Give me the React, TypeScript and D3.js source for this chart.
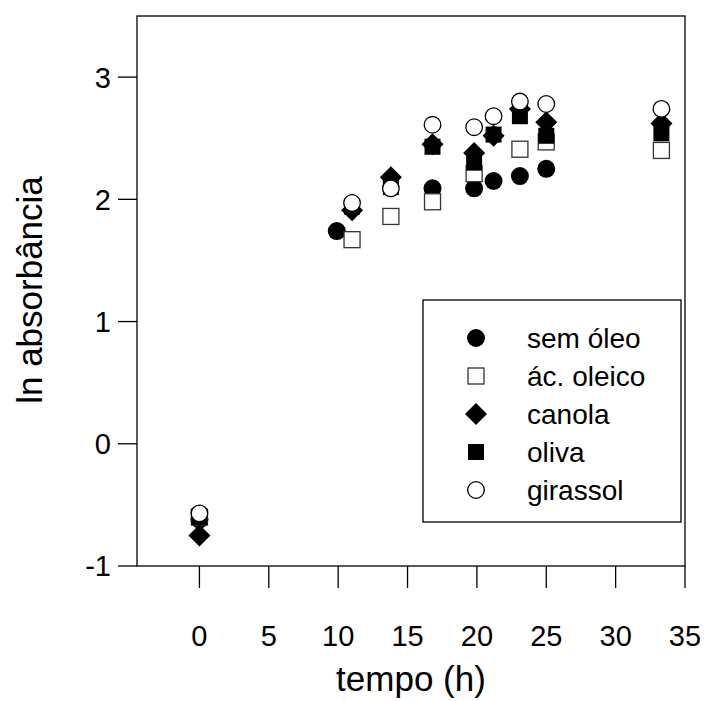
import React from "react";
import * as d3 from "d3";

const seriesNames = ["sem óleo", "ác. oleico", "canola", "oliva", "girassol"];
const symbolKinds = ["filledCircle", "openSquare", "diamond", "filledSquare", "openCircle"];

const semOleoT = [0, 9.9, 16.8, 19.8, 21.2, 23.1, 25.0];
const semOleoV = [-0.62, 1.74, 2.09, 2.09, 2.15, 2.19, 2.25];

const acOleicoT = [0, 11.0, 13.8, 16.8, 19.8, 23.1, 25.0, 33.3];
const acOleicoV = [-0.6, 1.67, 1.86, 1.98, 2.21, 2.41, 2.47, 2.4];

const canolaT = [0, 11.0, 13.8, 16.8, 19.8, 21.2, 23.1, 25.0, 33.3];
const canolaV = [-0.75, 1.91, 2.18, 2.45, 2.38, 2.52, 2.74, 2.63, 2.62];

const olivaT = [0, 11.0, 13.8, 16.8, 19.8, 21.2, 23.1, 25.0, 33.3];
const olivaV = [-0.6, 1.94, 2.1, 2.43, 2.3, 2.53, 2.68, 2.52, 2.54];

const girassolT = [0, 11.0, 13.8, 16.8, 19.8, 21.2, 23.1, 25.0, 33.3];
const girassolV = [-0.57, 1.97, 2.09, 2.61, 2.59, 2.68, 2.8, 2.78, 2.74];

const xTicks = [0, 5, 10, 15, 20, 25, 30, 35];
const yTicks = [-1, 0, 1, 2, 3];

const FONT = "'Liberation Sans', Arial, sans-serif";

function Marker({ kind, x, y }: { kind: string; x: number; y: number }) {
  switch (kind) {
    case "filledCircle":
      return <circle cx={x} cy={y} r={9} fill="#000" />;
    case "openCircle":
      return <circle cx={x} cy={y} r={8.3} fill="#fff" stroke="#000" strokeWidth={1.3} />;
    case "filledSquare":
      return <rect x={x - 8} y={y - 8} width={16} height={16} fill="#000" />;
    case "openSquare":
      return <rect x={x - 8} y={y - 8} width={16} height={16} fill="#fff" stroke="#333" strokeWidth={1.3} />;
    case "diamond":
      return <path d={`M${x},${y - 11}L${x + 11},${y}L${x},${y + 11}L${x - 11},${y}Z`} fill="#000" />;
    default:
      return null;
  }
}

export default function App() {
  const W = 709, H = 701;
  const left = 137, right = 685, top = 16, bottom = 566;
  const x = d3.scaleLinear().domain([-4.5, 35]).range([left, right]);
  const y = d3.scaleLinear().domain([-1, 3.5]).range([bottom, top]);

  const series = [
    { t: semOleoT, v: semOleoV },
    { t: acOleicoT, v: acOleicoV },
    { t: canolaT, v: canolaV },
    { t: olivaT, v: olivaV },
    { t: girassolT, v: girassolV },
  ];

  const legX = 423, legY = 300, legW = 258, legH = 222;
  const rowY = d3.scaleLinear().domain([0, 4]).range([338, 490]);

  return (
    <svg width={W} height={H} style={{ position: "absolute", left: 0, top: 0, background: "#fff" }} fontFamily={FONT}>
      <rect x={0} y={0} width={W} height={H} fill="#fff" />
      {/* frame */}
      <rect x={left} y={top} width={right - left} height={bottom - top} fill="none" stroke="#000" strokeWidth={1.3} />
      {/* y ticks */}
      {yTicks.map((t) => (
        <g key={"y" + t}>
          <line x1={left - 19} x2={left} y1={y(t)} y2={y(t)} stroke="#000" strokeWidth={1.3} />
          <text x={111} y={y(t)} dy="0.36em" textAnchor="end" fontSize={29}>{t}</text>
        </g>
      ))}
      {/* x ticks */}
      {xTicks.map((t) => (
        <g key={"x" + t}>
          <line x1={x(t)} x2={x(t)} y1={bottom} y2={bottom + 22} stroke="#000" strokeWidth={1.3} />
          <text x={x(t)} y={646} textAnchor="middle" fontSize={29}>{t}</text>
        </g>
      ))}
      <text x={411} y={691} textAnchor="middle" fontSize={35}>tempo (h)</text>
      <text transform={`translate(42,290) rotate(-90)`} textAnchor="middle" fontSize={35}>ln absorbância</text>
      {/* points */}
      {series.map((s, i) => (
        <g key={"s" + i}>
          {s.t.map((t, j) => (
            <Marker key={j} kind={symbolKinds[i]} x={x(t)} y={y(s.v[j])} />
          ))}
        </g>
      ))}
      {/* legend */}
      <rect x={legX} y={legY} width={legW} height={legH} fill="#fff" stroke="#000" strokeWidth={1.3} />
      {seriesNames.map((n, i) => (
        <g key={"l" + i}>
          <Marker kind={symbolKinds[i]} x={476} y={rowY(i)} />
          <text x={527} y={rowY(i)} dy="0.36em" fontSize={28}>{n}</text>
        </g>
      ))}
    </svg>
  );
}
